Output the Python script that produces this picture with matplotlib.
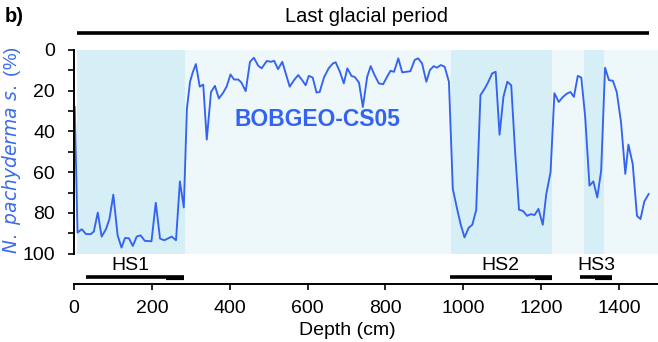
import matplotlib
matplotlib.use("Agg")
import matplotlib.pyplot as plt
import numpy as np

plt.rcParams['font.family'] = ['Liberation Sans', 'DejaVu Sans']

# N. pachyderma s. (%) vs depth (cm), core BOBGEO-CS05
depth = [2, 9, 20, 31, 43, 51, 61, 71, 82, 91, 101, 112, 122, 131, 141, 151, 161, 171,
         182, 199, 210, 221, 232, 251, 262, 272, 282, 290, 298, 305, 313, 323, 332, 341,
         352, 362, 372, 383, 392, 402, 411, 422, 430, 441, 452, 462, 473, 482, 495, 506,
         514, 524, 535, 544, 554, 565, 576, 586, 595, 603, 613, 623, 631, 642, 654, 665,
         672, 683, 693, 702, 713, 721, 732, 742, 753, 762, 772, 783, 794, 804, 813, 822,
         833, 843, 864, 875, 884, 894, 905, 914, 924, 932, 942, 952, 963, 973, 984, 993,
         1003, 1014, 1023, 1033, 1044, 1055, 1063, 1074, 1083, 1093, 1103, 1113, 1123,
         1133, 1143, 1153, 1164, 1173, 1183, 1193, 1204, 1213, 1224, 1234, 1245, 1256,
         1266, 1275, 1284, 1294, 1303, 1313, 1324, 1334, 1344, 1354, 1364, 1374, 1384,
         1394, 1405, 1416, 1424, 1435, 1446, 1455, 1465, 1476]
npach = [28, 89.6, 88, 90.4, 90.4, 89.1, 79.8, 91.6, 88, 83, 71, 91, 97, 92.3, 92.4, 96.2,
         91.6, 91, 93.7, 93.9, 75, 92.6, 93.4, 91.6, 93.4, 64.5, 77.3, 28.8, 15.6, 11, 6.9,
         18, 17, 44, 20.6, 17.6, 23.8, 21, 18, 12, 14.5, 14.5, 16, 20.2, 5.8, 3.8, 7.7, 9,
         5.4, 5.8, 5.3, 9.4, 5.8, 11.5, 18, 14.8, 12.3, 14.8, 17.3, 12.7, 13.5, 20.9, 20.6,
         13.5, 9, 6.6, 6, 10.7, 16.4, 9, 12.8, 13.2, 16, 28, 13.2, 7.9, 12.3, 16.4, 16.8,
         13.2, 10.2, 10.7, 4.1, 11, 10.4, 4.9, 4.1, 6.6, 15.6, 9.9, 7.9, 8.7, 7.4, 8.2,
         15.6, 68.2, 78, 85.5, 92, 87.2, 85.8, 78.6, 22.2, 18.9, 16.1, 11.5, 10.7, 41.6,
         23, 15.6, 17.3, 50, 78.4, 79, 81.4, 80.6, 81, 78, 85.8, 70.7, 60, 21.2, 25.5, 23,
         21.4, 20.6, 23, 12.7, 13.5, 32.9, 66.6, 64.5, 72.4, 59.2, 8.7, 14.8, 15.1, 20.6,
         35.4, 60.8, 46.4, 55.9, 81.4, 83, 74.3, 70.7]

# Heinrich stadials
hs_names = ['HS1', 'HS2', 'HS3']
hs_shade = [(8, 286), (968, 1227), (1311, 1361)]
hs_bars = [(30, 282), (966, 1229), (1299, 1383)]
hs_label_x = [146, 1096, 1341]

line_color = '#3463f0'
light_bg = '#eef8fb'
dark_bg = '#d6eef5'

fig = plt.figure(figsize=(6.58, 3.42), dpi=100)
ax = fig.add_axes([74 / 658, 88.3 / 342, 1 - 74 / 658, (253.7 - 50) / 342])

ax.axvspan(8, 1500, color=light_bg, lw=0, zorder=0)
for (a, b) in hs_shade:
    ax.axvspan(a, b, color=dark_bg, lw=0, zorder=0.5)

ax.plot(depth, npach, color=line_color, lw=1.35, zorder=2)

ax.set_xlim(0, 1500)
ax.set_ylim(100, 0)

ax.spines['top'].set_visible(False)
ax.spines['right'].set_visible(False)
ax.spines['bottom'].set_position(('outward', 21.6))
for s in ['left', 'bottom']:
    ax.spines[s].set_linewidth(1.4)

ax.set_xticks(np.arange(0, 1401, 200))
ax.set_yticks(np.arange(0, 101, 20))
ax.set_yticks(np.arange(10, 100, 20), minor=True)
ax.tick_params(axis='both', which='both', direction='out', length=4.5, width=1.2,
               labelsize=14)
ax.tick_params(axis='x', length=4, pad=8)
ax.tick_params(axis='y', pad=9)

ax.set_xlabel('Depth (cm)', fontsize=14)
ax.xaxis.set_label_coords(0.4675, -0.335)
ax.set_ylabel(r'$\it{N.\ pachyderma\ s.}$ (%)', fontsize=13.5, color='#3a6cea')
ax.yaxis.set_label_coords(-0.087, 0.51)

ax.text(626, 34, 'BOBGEO-CS05', color=line_color, fontsize=16.5, fontweight='bold',
        ha='center', va='center')

for name, (a, b), lx in zip(hs_names, hs_bars, hs_label_x):
    ax.plot([a, b], [111.5, 111.5], color='black', lw=2.6, clip_on=False,
            solid_capstyle='butt')
    ax.plot([b - 45, b], [111.7, 111.7], color='black', lw=3.0, clip_on=False,
            solid_capstyle='butt')
    ax.text(lx, 106, name, fontsize=14, ha='center', va='center')

ax.plot([8, 1476], [-8.2, -8.2], color='black', lw=2.6, clip_on=False,
        solid_capstyle='butt')
ax.text(752, -16.3, 'Last glacial period', fontsize=14.5, ha='center', va='center')
fig.text(5 / 658, 1 - 17 / 342, 'b)', fontsize=14.5, fontweight='bold', va='center')

fig.savefig('out.png', dpi=100)
